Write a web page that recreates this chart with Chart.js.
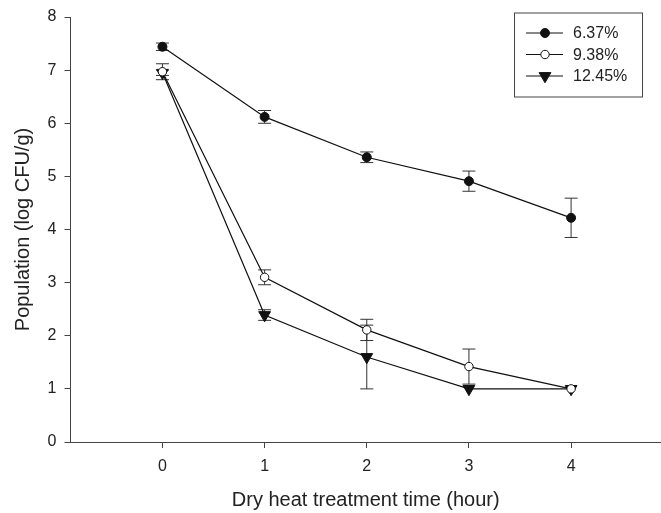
<!DOCTYPE html>
<html>
<head>
<meta charset="utf-8">
<script src="https://cdn.jsdelivr.net/npm/chart.js@4.4.1/dist/chart.umd.min.js"></script>
<style>
  html, body { margin: 0; padding: 0; background: #fff; }
  #wrap { width: 661px; height: 513px; }
</style>
</head>
<body>
<div id="wrap"><canvas id="chart" width="661" height="513"></canvas></div>
<script>
// hours of dry heat treatment
const hours = [0, 1, 2, 3, 4];
const xTicks = [0, 1, 2, 3, 4];
const yTicks = [0, 1, 2, 3, 4, 5, 6, 7, 8];

// moisture content series (log CFU/g) and their error bars
const labels = ['6.37%', '9.38%', '12.45%'];
const pop637 = [7.44, 6.12, 5.36, 4.91, 4.22];
const err637 = [0.07, 0.12, 0.10, 0.19, 0.37];
const pop938 = [6.97, 3.10, 2.11, 1.42, 1.00];
const err938 = [0.15, 0.14, 0.20, 0.33, 0];
const pop1245 = [6.95, 2.39, 1.60, 1.00, 1.00];
const err1245 = [0.05, 0.10, 0.60, 0, 0];

const FONT = '"Liberation Sans", Arial, sans-serif';
const INK = '#111';
const AXIS = '#444';

const toPts = vals => vals.map((v, i) => ({ x: hours[i], y: v }));

const makeSet = (label, vals, errs, style, fill, radius, rotation) => ({
  label,
  data: toPts(vals),
  errors: errs,
  borderColor: INK,
  borderWidth: 1.2,
  pointStyle: style,
  pointRadius: radius,
  pointHoverRadius: radius,
  pointRotation: rotation,
  pointBackgroundColor: fill,
  pointBorderColor: INK,
  pointBorderWidth: 1,
  tension: 0,
  fill: false
});

const datasets = [
  makeSet(labels[0], pop637, err637, 'circle', INK, 4.5, 0),
  makeSet(labels[1], pop938, err938, 'circle', '#fff', 4.2, 0),
  makeSet(labels[2], pop1245, err1245, 'triangle', INK, 6.8, 180)
];

// vertical error bars with caps
const errorBars = {
  id: 'errorBars',
  beforeDatasetsDraw(chart) {
    const { ctx, scales: { x, y } } = chart;
    ctx.save();
    ctx.strokeStyle = '#333';
    ctx.lineWidth = 1;
    chart.data.datasets.forEach(ds => {
      ds.data.forEach((p, i) => {
        const e = ds.errors[i];
        if (!e) return;
        const px = x.getPixelForValue(p.x);
        const top = y.getPixelForValue(p.y + e);
        const bot = y.getPixelForValue(p.y - e);
        ctx.beginPath();
        ctx.moveTo(px, top); ctx.lineTo(px, bot);
        ctx.moveTo(px - 6.5, top); ctx.lineTo(px + 6.5, top);
        ctx.moveTo(px - 6.5, bot); ctx.lineTo(px + 6.5, bot);
        ctx.stroke();
      });
    });
    ctx.restore();
  }
};

// boxed legend with line + marker samples
const boxLegend = {
  id: 'boxLegend',
  afterDraw(chart) {
    const { ctx, chartArea } = chart;
    const bx = chartArea.right - 147, by = chartArea.top - 4.5;
    const bw = 128, bh = 84;
    ctx.save();
    ctx.strokeStyle = AXIS;
    ctx.lineWidth = 1;
    ctx.strokeRect(bx + 0.5, by + 0.5, bw, bh);
    chart.data.datasets.forEach((ds, i) => {
      const ry = by + 20.5 + i * 21.5;
      ctx.strokeStyle = INK;
      ctx.lineWidth = 1.2;
      ctx.beginPath();
      ctx.moveTo(bx + 12, ry); ctx.lineTo(bx + 49, ry);
      ctx.stroke();
      ctx.fillStyle = ds.pointBackgroundColor;
      ctx.strokeStyle = INK;
      ctx.lineWidth = 1;
      Chart.helpers.drawPoint(ctx, {
        pointStyle: ds.pointStyle, radius: ds.pointRadius, rotation: ds.pointRotation, borderWidth: 1
      }, bx + 31, ry);
      ctx.fillStyle = '#222';
      ctx.font = '16px ' + FONT;
      ctx.textBaseline = 'middle';
      ctx.textAlign = 'left';
      ctx.fillText(ds.label, bx + 59, ry + 1);
    });
    ctx.restore();
  }
};

new Chart(document.getElementById('chart'), {
  type: 'line',
  data: { datasets },
  plugins: [errorBars, boxLegend],
  options: {
    responsive: false,
    animation: false,
    devicePixelRatio: 1,
    layout: { autoPadding: false, padding: { top: 17, right: 0, left: 0, bottom: 0 } },
    plugins: { legend: { display: false }, tooltip: { enabled: false } },
    scales: {
      x: {
        type: 'linear',
        min: -0.9,
        max: 4.88,
        afterBuildTicks: s => { s.ticks = xTicks.map(v => ({ value: v })); },
        afterFit: s => { s.height = 71; s.paddingLeft = 0; s.paddingRight = 0; },
        grid: { display: true, drawOnChartArea: false, drawTicks: true, tickLength: 6, color: AXIS },
        border: { display: true, color: AXIS, width: 1 },
        ticks: { font: { family: FONT, size: 16 }, color: '#222', padding: 9, maxRotation: 0 },
        title: {
          display: true,
          text: 'Dry heat treatment time (hour)',
          font: { family: FONT, size: 20 },
          color: '#222',
          padding: { top: 0, bottom: 1 }
        }
      },
      y: {
        min: 0,
        max: 8,
        afterBuildTicks: s => { s.ticks = yTicks.map(v => ({ value: v })); },
        afterFit: s => { s.width = 70.5; s.paddingTop = 0; s.paddingBottom = 0; },
        grid: { display: true, drawOnChartArea: false, drawTicks: true, tickLength: 6, color: AXIS },
        border: { display: true, color: AXIS, width: 1 },
        ticks: { font: { family: FONT, size: 16 }, color: '#222', padding: 8 },
        title: {
          display: true,
          text: 'Population (log CFU/g)',
          font: { family: FONT, size: 20 },
          color: '#222',
          padding: { top: 11, bottom: 0 }
        }
      }
    }
  }
});
</script>
</body>
</html>
